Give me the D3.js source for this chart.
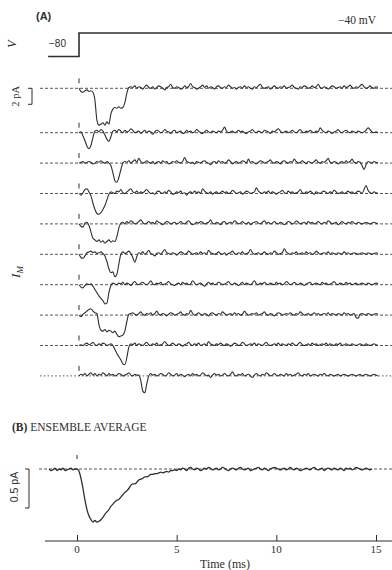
<!DOCTYPE html>
<html><head><meta charset="utf-8">
<script src="https://cdn.jsdelivr.net/npm/d3@7"></script>
<style>body{margin:0;background:#fff}svg{display:block}</style>
</head><body>
<script>
// ---------- DATA ----------
const stepMs = 0.1;              // sampling interval of the traces (ms)
const traceStart = 0;            // single-channel sweeps start at t = 0 ms
const ensembleStart = -1.4;      // ensemble average starts at t = -1.4 ms
const timeTicks = [0, 5, 10, 15];
const voltageTimes = [-1.55, 0, 0, 15.7];
const voltageValues = [-80, -80, -40, -40];   // mV
const holdingLabel = "\u221280";
const stepLabel = "\u221240 mV";

// single-channel currents (pA), one value every 0.1 ms
const sweep1 = [0,-0.4,-0.5,-0.3,-0.2,-0.4,-0.3,-0.5,-1.5,-4.0,-4.6,-4.5,-4.3,-4.6,-4.2,-4.5,-3.2,-2.6,-2.4,-2.5,-2.3,-2.5,-2.4,-1.8,-0.6,0.1,0.2,0.1,0.3,0.0,0.2,0.1,-0.1,0.2,0.4,0.1,0.0,0.2,-0.1,0.1,0.3,0.2,0.0,-0.2,0.1,0.2,0.5,0.1,0.0,0.2,0.1,-0.1,0.0,0.3,0.1,0.2,0.6,0.2,0.1,-0.1,0.0,0.2,0.4,0.1,0.3,0.0,0.2,0.1,-0.1,0.2,0.3,0.1,0.0,0.2,0.1,0.4,0.2,0.0,0.1,-0.1,0.1,0.2,0.0,0.3,0.1,0.2,0.0,-0.1,0.2,0.1,0.3,0.5,0.1,0.0,0.1,0.2,-0.1,0.1,0.3,0.1,0.0,0.2,0.1,0.3,0.0,0.1,0.2,0.4,0.1,0.0,-0.1,0.2,0.1,0.3,0.2,0.0,0.1,0.3,0.1,0.2,0.5,0.1,0.0,0.2,0.1,-0.1,0.1,0.3,0.2,0.0,0.1,0.2,0.0,0.3,0.1,0.2,0.4,0.1,0.0,0.2,0.1,0.3,0.5,0.2,0.0,0.1,0.3,0.1,0.0,0.2,0.1];
const sweep2 = [0.0,0.1,-0.4,-1.0,-1.7,-2.0,-1.6,-0.6,0.2,0.3,0.1,0.4,0.2,-0.3,-0.8,-1.1,-0.5,0.2,0.3,0.1,0.4,0.2,0.0,0.3,0.1,0.2,0.5,0.3,0.0,0.1,0.2,-0.1,0.1,0.3,0.0,0.2,0.1,-0.2,0.1,0.3,0.2,0.0,0.1,0.4,0.2,0.1,-0.1,0.2,0.3,0.0,0.1,0.2,-0.1,0.0,0.3,0.1,0.2,0.0,0.1,0.4,0.2,0.0,-0.1,0.1,0.3,0.1,0.0,0.2,0.1,0.0,0.2,0.1,0.3,0.7,0.2,0.0,0.1,0.2,0.0,0.1,0.3,0.1,0.2,0.0,-0.1,0.1,0.2,0.4,0.1,0.0,0.2,0.1,0.0,0.3,0.2,0.1,-0.1,0.2,0.1,0.3,0.5,0.2,0.0,0.1,0.2,0.0,0.1,0.3,0.1,0.0,0.2,0.4,0.1,0.0,0.2,0.1,0.3,0.1,0.0,0.2,0.1,0.6,0.3,0.1,0.0,0.2,0.1,-0.1,0.1,0.2,0.4,0.1,0.0,0.2,0.3,0.1,0.0,0.2,0.1,0.0,0.2,0.1,0.0,0.1,0.3,0.6,0.4,0.1,0.0,0.1,0.0];
const sweep3 = [0.0,0.1,0.2,0.0,0.1,0.2,0.1,-0.1,0.0,0.2,0.1,0.3,0.1,0.0,0.2,0.0,-0.3,-1.2,-2.2,-2.4,-1.8,-0.8,0.0,0.2,0.1,0.3,0.0,0.2,0.4,0.1,0.6,0.2,0.0,0.1,0.3,0.1,0.0,0.2,-0.1,0.1,0.2,0.0,0.3,0.1,0.2,-0.1,0.0,0.2,0.1,0.3,0.1,0.0,0.2,0.7,0.2,0.1,0.0,0.1,-0.1,0.2,0.1,0.0,0.2,0.3,0.1,0.0,-0.2,0.1,0.2,0.0,0.3,0.1,0.2,0.0,0.1,0.4,0.2,-0.1,0.1,0.2,0.0,0.1,0.3,0.2,0.0,0.5,0.1,0.2,0.0,-0.1,0.1,0.3,0.2,0.0,0.1,0.2,0.4,0.1,0.0,0.2,0.1,-0.1,0.2,0.3,0.1,0.0,0.2,0.1,0.5,0.2,0.0,0.1,0.3,0.1,-0.1,0.2,0.1,0.0,0.2,0.4,0.1,0.0,0.2,0.1,0.3,0.6,0.1,0.0,0.2,0.1,-0.1,0.1,0.2,0.0,0.3,0.1,0.2,0.5,0.1,0.0,0.2,0.1,-0.3,-0.8,-0.2,0.2,0.1,0.0,0.2,0.1,0.0];
const sweep4 = [0.0,-0.2,0.1,0.5,0.6,0.2,-0.3,-1.2,-2.0,-2.5,-2.6,-2.4,-2.0,-1.5,-0.8,-0.1,0.2,0.1,0.0,0.3,0.2,0.5,0.1,0.0,0.2,0.4,0.6,0.2,0.1,0.3,0.0,0.2,0.1,0.3,0.5,0.2,0.0,0.1,-0.1,0.2,0.3,0.1,0.0,0.2,0.1,0.4,0.2,-0.1,0.0,0.2,0.1,0.3,0.0,0.1,-0.2,0.1,0.2,0.0,0.3,0.1,0.2,0.0,0.6,0.3,0.1,0.0,0.2,-0.1,0.1,0.2,0.0,0.1,0.3,0.1,0.2,0.0,0.1,0.4,0.2,0.0,0.1,0.2,-0.1,0.1,0.3,0.2,0.0,0.1,0.2,0.7,0.3,0.1,0.0,0.2,0.1,0.3,0.0,0.2,0.1,-0.1,0.1,0.2,0.4,0.1,0.0,0.3,0.1,0.2,0.0,0.1,0.2,0.5,0.1,0.0,0.2,0.1,0.3,0.1,-0.1,0.2,0.1,0.0,0.2,0.3,0.1,0.0,0.2,0.1,0.4,0.2,0.0,0.1,0.2,0.0,0.1,0.3,0.1,0.2,0.0,0.1,0.3,0.2,0.0,0.5,1.0,0.4,0.1,0.0,0.2,0.1,0.0];
const sweep5 = [0.0,-0.3,-0.4,0.1,0.2,-0.2,-1.0,-1.8,-2.0,-2.2,-2.0,-2.3,-2.1,-2.4,-2.2,-2.0,-2.3,-2.1,-2.2,-1.6,-0.5,0.1,0.2,0.0,0.3,0.1,0.4,0.2,0.0,0.1,0.3,0.5,0.2,0.0,0.1,0.3,0.1,0.2,0.0,0.4,0.2,0.1,-0.1,0.1,0.3,0.2,0.0,0.1,0.2,0.0,0.1,0.3,0.1,0.0,0.2,0.4,0.1,-0.1,0.0,0.2,0.1,0.3,0.2,0.0,0.1,0.2,0.5,0.1,0.0,0.2,0.1,-0.1,0.2,0.3,0.0,0.1,0.2,0.1,0.4,0.2,0.0,0.1,0.3,0.1,0.0,0.2,-0.1,0.1,0.2,0.3,0.1,0.0,0.2,0.4,0.1,0.2,0.0,0.1,0.3,0.1,0.0,0.2,0.1,-0.1,0.1,0.3,0.2,0.0,0.1,0.4,0.2,0.0,0.1,0.2,0.0,0.3,0.1,0.2,0.0,0.1,0.3,0.1,0.0,0.2,0.1,0.4,0.2,0.0,0.1,0.2,-0.1,0.1,0.3,0.1,0.0,0.2,0.1,0.3,0.1,0.0,0.2,0.1,0.0,0.1,0.2,0.1,0.0,0.1,0.2,0.1,0.0];
const sweep6 = [0.0,-0.4,-0.5,-0.2,0.2,0.3,0.4,0.2,0.3,0.1,0.2,0.3,0.1,-0.2,-0.9,-1.8,-2.3,-2.2,-2.8,-2.5,-1.2,0.0,0.3,0.1,0.2,0.4,0.1,-0.4,-1.0,-0.3,0.2,0.1,0.3,0.0,0.2,0.5,0.1,0.0,-0.2,0.1,0.2,0.0,0.3,0.6,0.2,0.1,0.0,0.2,0.1,-0.1,0.1,0.3,0.2,0.0,0.1,0.4,0.2,0.0,0.1,0.2,0.0,0.3,0.1,0.2,0.0,0.5,0.2,0.1,0.0,0.1,0.3,0.1,0.0,0.2,-0.1,0.1,0.2,0.4,0.1,0.0,0.2,0.1,0.3,0.0,0.1,0.2,0.6,0.2,0.0,0.1,0.2,0.0,0.1,0.3,0.1,0.0,0.2,0.1,0.4,0.2,0.0,0.1,0.2,0.7,0.3,0.1,0.0,0.2,0.1,0.3,0.0,0.1,0.2,0.0,0.3,0.1,0.2,0.0,0.1,0.4,0.2,0.0,0.1,0.2,0.1,0.3,0.0,0.2,0.1,0.0,0.2,0.1,0.0,0.3,0.1,0.2,0.0,0.1,0.2,0.1,0.0,0.1,0.2,0.1,0.0,0.2,0.1,0.0,0.1,0.2,0.1];
const sweep7 = [0.0,-0.3,-0.4,-0.1,0.1,0.0,0.1,-0.2,-0.6,-1.0,-1.4,-1.7,-2.0,-2.4,-2.3,-1.0,-0.1,0.2,0.1,0.0,0.2,0.1,0.3,0.0,0.2,0.1,-0.1,0.2,0.4,0.1,0.0,0.2,0.3,0.1,0.0,0.2,0.5,0.1,0.0,0.2,0.1,0.3,0.0,0.1,0.2,0.4,0.1,0.0,-0.1,0.1,0.2,0.0,0.3,0.1,0.2,0.0,0.1,0.5,0.2,0.0,0.1,0.2,0.0,-0.2,0.1,0.3,0.1,0.2,0.0,0.1,0.3,0.2,0.0,0.1,0.2,0.4,0.1,0.0,0.2,0.1,-0.1,0.1,0.3,0.0,0.2,0.1,0.0,0.2,0.5,0.1,0.0,0.2,0.1,0.3,0.1,0.0,0.2,0.1,0.0,0.3,0.1,0.2,0.0,0.1,0.4,0.2,0.0,0.1,0.3,0.1,0.0,0.2,0.1,-0.1,0.1,0.2,0.3,0.0,0.1,0.2,0.1,0.0,0.3,0.1,0.2,0.0,0.1,0.2,0.4,0.1,0.0,0.2,0.1,0.0,0.3,0.1,0.2,0.0,0.1,0.2,0.0,0.1,0.2,0.1,0.0,0.2,0.1,0.0,0.1,0.2,0.1];
const sweep8 = [0.0,-0.2,0.1,0.3,0.5,0.7,0.8,0.5,0.3,0.2,-1.2,-1.9,-2.0,-1.8,-2.1,-1.9,-2.0,-2.2,-2.0,-2.4,-2.7,-2.6,-2.5,-2.0,-0.8,0.1,0.2,0.3,0.1,0.0,0.2,0.4,0.1,0.0,0.2,0.1,0.3,0.0,0.2,0.5,0.1,0.0,0.2,0.1,-0.1,0.1,0.3,0.2,0.0,0.1,0.2,0.4,0.1,0.0,0.2,0.1,0.6,0.2,0.0,0.1,0.3,0.1,0.0,0.2,0.1,-0.1,0.2,0.3,0.1,0.0,0.2,0.1,0.4,0.2,0.0,0.1,0.2,0.0,0.3,0.1,0.2,0.0,0.1,0.5,0.2,0.0,0.1,0.2,0.1,0.3,0.0,0.1,0.2,0.4,0.1,0.0,0.2,0.1,-0.1,0.1,0.3,0.2,0.0,0.1,0.2,0.1,0.3,0.1,0.0,0.2,0.1,0.4,0.2,0.0,0.1,0.2,0.0,0.1,0.3,0.1,0.2,0.0,0.1,0.2,0.1,0.3,0.0,0.2,0.1,0.0,0.2,0.1,0.0,0.3,0.1,0.2,0.0,0.1,0.2,-0.3,-0.4,0.1,0.2,0.1,0.0,0.2,0.1,0.0,0.1,0.2,0.1];
const sweep9 = [0.0,0.1,0.0,0.2,0.3,0.1,0.2,0.4,0.1,0.0,0.2,0.1,0.3,0.2,0.0,0.1,0.2,0.0,-0.5,-1.0,-1.4,-1.8,-2.3,-2.4,-1.5,-0.2,0.2,0.1,0.3,0.0,0.2,0.1,0.0,0.2,0.4,0.1,0.0,0.2,0.1,0.3,0.0,0.1,0.2,0.5,0.2,0.0,0.1,0.3,0.1,0.0,0.2,0.1,-0.1,0.1,0.2,0.4,0.1,0.0,0.2,0.1,0.3,0.0,0.1,0.2,0.0,0.5,0.2,0.1,0.0,0.2,0.1,0.3,0.1,0.0,0.2,0.1,-0.1,0.1,0.3,0.2,0.0,0.1,0.4,0.2,0.0,0.1,0.2,0.1,0.3,0.0,0.2,0.1,0.0,0.2,0.4,0.1,0.0,0.1,0.2,0.1,0.3,0.0,0.2,0.1,0.0,0.2,0.1,0.3,0.1,0.0,0.2,0.4,0.1,0.0,0.1,0.2,0.0,0.3,0.1,0.2,0.0,0.1,0.2,0.1,0.3,0.0,0.2,0.1,0.0,0.2,0.1,0.3,0.0,0.1,0.2,0.1,0.0,0.2,0.1,0.0,0.1,0.2,0.1,0.0,0.2,0.1,0.0,0.1,0.2,0.1,0.0];
const sweep10 = [0.0,0.2,0.1,0.3,0.0,0.2,0.4,0.1,0.3,0.0,0.2,0.1,0.4,0.2,0.0,0.3,0.1,0.2,0.0,0.1,0.3,0.2,0.0,0.1,0.2,0.4,0.1,0.0,0.2,0.1,0.1,-0.6,-1.9,-2.1,-1.0,0.0,0.3,0.1,0.2,0.0,0.1,0.3,0.2,0.0,0.1,0.4,0.2,0.0,0.1,0.3,0.0,0.2,0.1,-0.1,0.1,0.2,0.0,0.3,0.1,0.2,0.0,0.1,0.4,0.2,0.0,0.1,-0.2,0.1,0.3,0.1,0.2,0.0,0.1,0.3,0.1,0.0,0.2,0.5,0.1,0.0,0.2,0.1,0.3,0.0,0.1,0.2,0.0,-0.2,0.1,0.3,0.1,0.0,0.2,0.1,0.4,0.2,0.0,0.1,0.3,0.1,0.0,0.2,0.1,0.0,0.3,0.1,0.2,0.0,0.1,0.2,0.4,0.1,0.0,0.2,0.1,0.3,0.0,0.1,0.2,0.1,0.0,0.2,0.1,0.3,0.1,0.0,0.2,0.1,0.0,0.1,0.2,0.0,0.1,0.2,0.1,0.0,0.1,0.2,0.1,0.0,0.1,0.2,0.0,0.1,0.2,0.1,0.0,0.1,0.2,0.1,0.0];
const sweeps = [sweep1, sweep2, sweep3, sweep4, sweep5, sweep6, sweep7, sweep8, sweep9, sweep10];

// ensemble average current (pA), one value every 0.1 ms from -1.4 ms
const ensemble = [0.0,-0.02,-0.01,0.01,-0.02,0.0,-0.01,0.01,-0.02,-0.01,0.0,0.01,-0.01,0.0,
0.0,-0.03,-0.12,-0.25,-0.40,-0.52,-0.60,-0.65,-0.68,-0.66,-0.68,-0.67,-0.65,-0.62,-0.58,-0.55,
-0.52,-0.48,-0.45,-0.42,-0.40,-0.39,-0.36,-0.33,-0.30,-0.28,-0.25,-0.21,-0.19,-0.19,-0.17,-0.14,-0.13,-0.12,-0.10,-0.10,
-0.09,-0.07,-0.07,-0.06,-0.06,-0.05,-0.04,-0.05,-0.04,-0.03,-0.04,-0.02,-0.02,-0.01,-0.02,
0.0,-0.01,0.01,0.0,-0.02,0.01,0.02,0.0,-0.01,0.01,0.0,-0.02,-0.01,0.01,0.0,0.02,0.01,-0.01,0.0,0.01,
-0.01,0.0,0.02,0.01,-0.01,-0.02,0.0,0.01,0.0,-0.01,0.01,0.02,0.0,-0.01,0.0,0.01,-0.02,-0.01,0.0,0.01,
0.02,0.0,-0.01,0.01,0.0,-0.02,0.0,0.01,0.02,0.01,0.0,-0.01,0.0,0.01,-0.01,0.0,0.02,0.0,-0.01,0.01,
0.0,-0.02,-0.01,0.0,0.01,0.0,-0.01,0.01,0.02,0.0,-0.01,0.0,0.01,-0.02,0.0,0.01,0.0,-0.01,0.01,0.0,
-0.01,0.01,0.0,-0.02,0.01,0.0,0.01,-0.01,0.0,0.02,0.01,0.0,-0.01,0.0,0.01,0.0,-0.01,0.0];

// ---------- DRAWING ----------
const W = 392, H = 570;
const ink = "#2e2e2e";
const serif = "'Liberation Serif','DejaVu Serif',serif";
const sans = "'Liberation Sans',Arial,sans-serif";

const svg = d3.select("body").append("svg").attr("width", W).attr("height", H);
svg.append("rect").attr("width", W).attr("height", H).attr("fill", "#fff");

const xA = d3.scaleLinear().domain([0, 15]).range([79, 378]);
const xB = d3.scaleLinear().domain([0, 15]).range([77, 376]);

// Panel A : voltage protocol
const yV = d3.scaleLinear().domain([-80, -40]).range([56.5, 33]);
const vPts = voltageTimes.map((t, i) => [t, voltageValues[i]]);
svg.append("path").attr("d", d3.line().x(d => xA(d[0])).y(d => yV(d[1]))(vPts))
  .attr("fill", "none").attr("stroke", ink).attr("stroke-width", 1.6);

svg.append("text").attr("x", 36).attr("y", 20).attr("font-family", sans).attr("font-weight", "bold")
  .attr("font-size", 11).attr("fill", ink).text("(A)");
svg.append("text").attr("x", 49).attr("y", 47).attr("font-family", sans).attr("font-size", 10)
  .attr("fill", ink).text(holdingLabel);
svg.append("text").attr("x", 338).attr("y", 24).attr("font-family", serif).attr("font-size", 11.5)
  .attr("fill", ink).text(stepLabel);
svg.append("text").attr("transform", "translate(16,44) rotate(-90)").attr("text-anchor", "middle")
  .attr("font-family", serif).attr("font-style", "italic").attr("font-size", 12).attr("fill", ink).text("V");

// Panel A : single-channel sweeps
const pxPerPA = 8;
const baseY = i => i === 0 ? 88.3 : 132.7 + (i - 1) * 30.4;
sweeps.forEach((s, i) => {
  const b = baseY(i);
  const y = d3.scaleLinear().domain([0, -1]).range([b, b + pxPerPA]);
  svg.append("line").attr("x1", 40).attr("x2", W).attr("y1", b).attr("y2", b)
    .attr("stroke", "#444").attr("stroke-width", 0.9).attr("stroke-dasharray", i === 9 ? "1.6,2.2" : "3,2");
  svg.append("line").attr("x1", xA(0)).attr("x2", xA(0)).attr("y1", b - 10).attr("y2", b - 5)
    .attr("stroke", ink).attr("stroke-width", 1);
  svg.append("path")
    .attr("d", d3.line().x((d, k) => xA(traceStart + k * stepMs)).y(d => y(d)).curve(d3.curveMonotoneX)(s))
    .attr("fill", "none").attr("stroke", ink).attr("stroke-width", 1.1).attr("stroke-linejoin", "round");
});

// 2 pA scale bar
svg.append("path").attr("d", `M28,88.3H32V${88.3 + 2 * pxPerPA}H28`).attr("fill", "none")
  .attr("stroke", ink).attr("stroke-width", 1);
svg.append("text").attr("transform", `translate(19,${88.3 + pxPerPA}) rotate(-90)`).attr("text-anchor", "middle")
  .attr("font-family", serif).attr("font-size", 10.5).attr("fill", ink).text("2 pA");

// I_M label
const im = svg.append("text").attr("transform", "translate(20,272) rotate(-90)").attr("text-anchor", "middle")
  .attr("font-family", serif).attr("font-style", "italic").attr("font-size", 13).attr("fill", ink);
im.append("tspan").text("I");
im.append("tspan").attr("font-size", 9).attr("dy", 3).text("M");

// Panel B : ensemble average
const tB = svg.append("text").attr("x", 12).attr("y", 431).attr("font-family", serif).attr("font-size", 11.5)
  .attr("fill", ink);
tB.append("tspan").attr("font-weight", "bold").text("(B)");
tB.append("tspan").text("  ENSEMBLE AVERAGE");

const baseB = 469;
const yB = d3.scaleLinear().domain([0, -0.5]).range([baseB, baseB + 39]);
svg.append("line").attr("x1", 39).attr("x2", W).attr("y1", baseB).attr("y2", baseB)
  .attr("stroke", "#444").attr("stroke-width", 0.9).attr("stroke-dasharray", "3,2");
svg.append("line").attr("x1", xB(0)).attr("x2", xB(0)).attr("y1", baseB - 14).attr("y2", baseB - 10)
  .attr("stroke", ink).attr("stroke-width", 1);
svg.append("path")
  .attr("d", d3.line().x((d, k) => xB(ensembleStart + k * stepMs)).y(d => yB(d)).curve(d3.curveMonotoneX)(ensemble))
  .attr("fill", "none").attr("stroke", ink).attr("stroke-width", 1.3);

svg.append("path").attr("d", `M25,${yB(0)}H29V${yB(-0.5)}H25`).attr("fill", "none")
  .attr("stroke", ink).attr("stroke-width", 1);
svg.append("text").attr("transform", "translate(18,487) rotate(-90)").attr("text-anchor", "middle")
  .attr("font-family", sans).attr("font-size", 10.5).attr("fill", ink).text("0.5 pA");

// time axis
const axisY = 541;
const axisG = svg.append("g").attr("transform", `translate(0,${axisY})`)
  .call(d3.axisTop(xB).tickValues(timeTicks).tickSize(6).tickFormat(""));
axisG.select(".domain").remove();
axisG.selectAll("line").attr("stroke", ink).attr("stroke-width", 1);
svg.append("line").attr("x1", 45).attr("x2", W).attr("y1", axisY).attr("y2", axisY)
  .attr("stroke", ink).attr("stroke-width", 1.2);
svg.append("g").selectAll("text").data(timeTicks).join("text")
  .attr("x", d => xB(d)).attr("y", 553).attr("text-anchor", "middle")
  .attr("font-family", serif).attr("font-size", 11).attr("fill", ink).text(d => d);
svg.append("text").attr("x", 225).attr("y", 568).attr("text-anchor", "middle")
  .attr("font-family", serif).attr("font-size", 12).attr("fill", ink).text("Time (ms)");
</script>
</body></html>
